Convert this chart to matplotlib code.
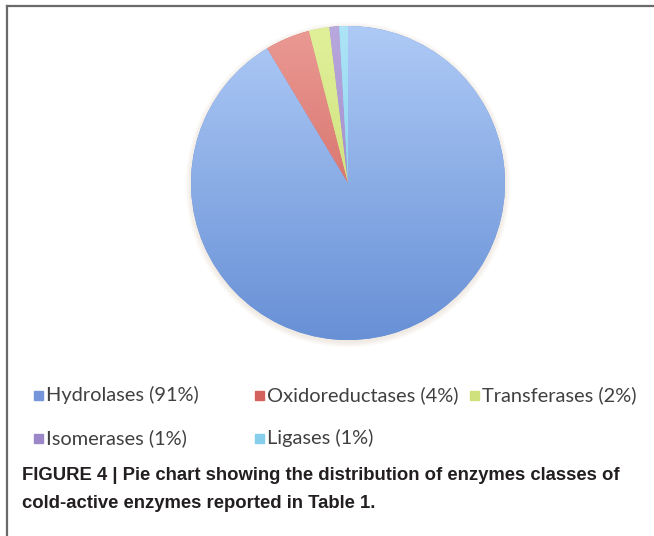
import numpy as np
import matplotlib
matplotlib.use('Agg')
import matplotlib.pyplot as plt
from matplotlib.patches import Rectangle, Circle
from matplotlib.lines import Line2D
from matplotlib.colors import LinearSegmentedColormap

# 酶的分类及占比
labels = ['Hydrolases (91%)', 'Oxidoreductases (4%)', 'Transferases (2%)',
          'Isomerases (1%)', 'Ligases (1%)']
values = [91.4, 4.6, 2.1, 1.0, 0.9]
# 渐变色：上浅下深
top_colors = ['#aecaf6', '#eb9a94', '#e0f09a', '#b8a8de', '#ade4f7']
bottom_colors = ['#6890d6', '#c9554f', '#c3d66a', '#9279bd', '#76c6e6']
caption_lines = ['FIGURE 4 | Pie chart showing the distribution of enzymes classes of',
                 'cold-active enzymes reported in Table 1.']

W, H = 654, 536
fig = plt.figure(figsize=(W / 100, H / 100), dpi=100)
fig.patch.set_facecolor('white')

# 饼图区域
cx, cy, r = 348, 183, 157
ax = fig.add_axes([(cx - r) / W, 1 - (cy + r) / H, 2 * r / W, 2 * r / H])

wedges, _ = ax.pie(values, startangle=90, counterclock=False, radius=1,
                   colors=bottom_colors, wedgeprops=dict(linewidth=0))
ax.set_xlim(-1, 1)
ax.set_ylim(-1, 1)
ax.set_aspect('equal')
ax.axis('off')

# 底部淡阴影
for k in range(8):
    ax.add_patch(Circle((0, -0.012), 1.0 + 0.005 * k, color='#c8b89a',
                        alpha=0.035, zorder=0, lw=0, clip_on=False))

grad = np.linspace(0, 1, 256).reshape(-1, 1)
for w, c0, c1 in zip(wedges, top_colors, bottom_colors):
    cmap = LinearSegmentedColormap.from_list('g', [c0, c1])
    im = ax.imshow(grad, cmap=cmap, extent=(-1, 1, -1, 1), origin='upper',
                   aspect='auto', zorder=2)
    im.set_clip_path(w)

# 边框（只有上边和左边）
fig.add_artist(Line2D([7 / W, 653 / W], [1 - 6 / H, 1 - 6 / H], color='#6a6a6a', lw=1.6))
fig.add_artist(Line2D([7 / W, 7 / W], [1 - 6 / H, 0], color='#6a6a6a', lw=1.6))

# 图例（手动排布）
leg_pos = [(34, 395), (255, 395), (470, 395), (34, 438), (255, 438)]
mid_colors = ['#7596da', '#d3625c', '#cfe17c', '#9c87c8', '#86cfec']
for lab, col, (x, y) in zip(labels, mid_colors, leg_pos):
    fig.add_artist(Rectangle((x / W, 1 - (y + 4.5) / H), 9 / W, 9 / H,
                             transform=fig.transFigure, color=col))
    fig.text((x + 12) / W, 1 - y / H, lab, family='Lato', fontsize=14.4,
             color='#404040', va='center', ha='left')

# 图注
for i, line in enumerate(caption_lines):
    fig.text(22 / W, 1 - (475 + 28 * i) / H, line, family='Liberation Sans',
             weight='bold', fontsize=13.35, color='#231f20', va='center', ha='left')

fig.savefig('out.png', dpi=100)
